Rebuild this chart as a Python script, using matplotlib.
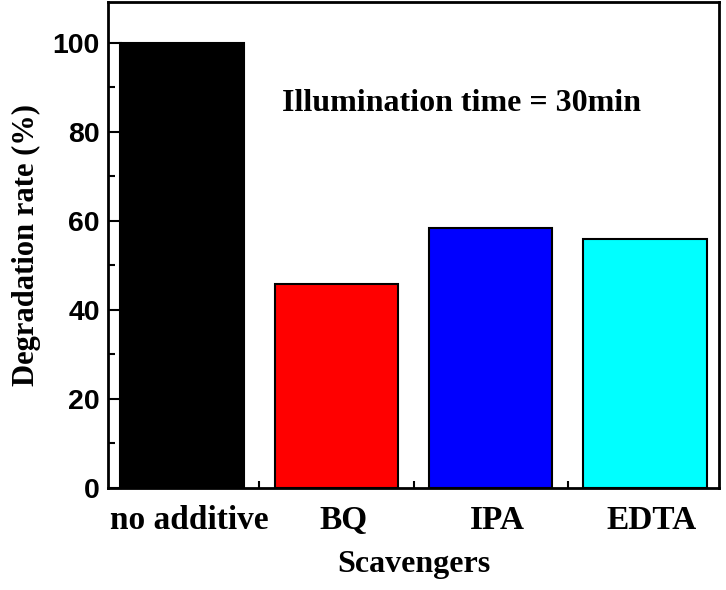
import matplotlib.pyplot as plt
from matplotlib.ticker import MultipleLocator, FixedLocator

# Scavenger experiment values
scavengers = ["no additive", "BQ", "IPA", "EDTA"]
degradation = [100.0, 45.8, 58.4, 56.0]
bar_colors = ["#000000", "#ff0000", "#0000ff", "#00ffff"]

fig = plt.figure(figsize=(7.26, 5.90), dpi=100)
ax = fig.add_axes([108 / 726, 1 - 488 / 590, (719 - 108) / 726, (488 - 2) / 590])

x = list(range(len(scavengers)))
ax.bar(x, degradation, width=0.8, color=bar_colors, edgecolor="black", linewidth=1.5)

ax.set_xlim(-0.48, 3.48)
ax.set_ylim(0, 109.2)

# labels in the original sit a little right of the bar centres (major ticks are hidden)
ax.set_xticks([i + 0.045 for i in x])
ax.set_xticklabels(scavengers, family="Liberation Serif", fontweight="bold", fontsize=24)
ax.xaxis.set_minor_locator(FixedLocator([0.5, 1.5, 2.5]))
ax.yaxis.set_major_locator(MultipleLocator(20))
ax.yaxis.set_minor_locator(MultipleLocator(10))
for lbl in ax.get_yticklabels():
    lbl.set_family("Liberation Sans")
    lbl.set_fontweight("bold")
    lbl.set_fontsize(20.5)

ax.tick_params(axis="both", which="major", direction="in", length=10, width=1.5, pad=6)
ax.tick_params(axis="both", which="minor", direction="in", length=5, width=1.5)
ax.tick_params(axis="x", which="major", length=0, pad=12)
ax.tick_params(top=False, right=False, which="both")
for sp in ax.spines.values():
    sp.set_linewidth(2)

ax.set_ylabel("Degradation rate (%)", family="Liberation Serif", fontweight="bold", fontsize=22, labelpad=8)
ax.set_xlabel("Scavengers", family="Liberation Serif", fontweight="bold", fontsize=23, labelpad=10)

ax.text(0.65, 86.5, "Illumination time = 30min", family="Liberation Serif",
        fontweight="bold", fontsize=23, va="center", ha="left")

fig.savefig("out.png", dpi=100)
